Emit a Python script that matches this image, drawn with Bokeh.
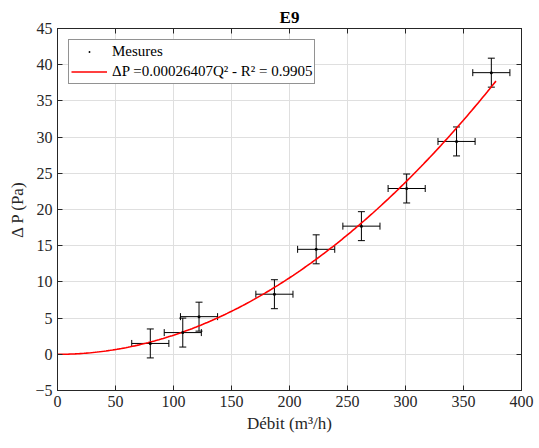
import numpy as np
from bokeh.plotting import figure
from bokeh.models import (Whisker, TeeHead, ColumnDataSource, LinearAxis, Range1d,
                          Legend, LegendItem, FixedTicker, CustomJSTickFormatter)
from bokeh.embed import file_html
from bokeh.resources import INLINE

# Measured data
debit = [80, 108, 122, 187, 223, 262, 301, 344, 374]
dp = [1.5, 3.0, 5.2, 8.3, 14.5, 17.7, 22.9, 29.4, 38.9]
debit_err = [16, 16, 16, 16, 16, 16, 16, 16, 16]
dp_err = [2, 2, 2, 2, 2, 2, 2, 2, 2]

# Fit: dP = a * Q^2
coef = 0.00026407
q_max = 378
q_fit = np.linspace(0, q_max, 200)
dp_fit = coef * q_fit ** 2

x_ticks = [0, 50, 100, 150, 200, 250, 300, 350, 400]
y_ticks = [-5, 0, 5, 10, 15, 20, 25, 30, 35, 40, 45]

FONT = "Liberation Serif"
AX = "#262626"

src = ColumnDataSource(dict(
    x=debit, y=dp,
    x_lo=[a - b for a, b in zip(debit, debit_err)],
    x_up=[a + b for a, b in zip(debit, debit_err)],
    y_lo=[a - b for a, b in zip(dp, dp_err)],
    y_up=[a + b for a, b in zip(dp, dp_err)],
))

p = figure(width=539, height=448, output_backend="svg", toolbar_location=None,
           x_range=Range1d(0, 400), y_range=Range1d(-5, 45),
           min_border_left=57, min_border_right=18, min_border_top=28, min_border_bottom=58)

p.title.text = "E9"
p.title.align = "center"
p.title.text_font = FONT
p.title.text_font_size = "17px"
p.title.text_font_style = "bold"
p.title.text_color = "black"
p.title.standoff = 3

p.background_fill_color = "white"
p.outline_line_color = AX
p.outline_line_width = 1

for ax in (p.xaxis[0], p.yaxis[0]):
    ax.major_label_text_font = FONT
    ax.major_label_text_font_size = "16px"
    ax.major_label_text_color = AX
    ax.axis_label_text_font = FONT
    ax.axis_label_text_font_size = "17px"
    ax.axis_label_text_font_style = "normal"
    ax.axis_label_text_color = AX
    ax.major_tick_in = 5
    ax.major_tick_out = 0
    ax.minor_tick_line_color = None
    ax.axis_line_color = AX
    ax.major_tick_line_color = AX

p.xaxis[0].ticker = FixedTicker(ticks=x_ticks)
p.yaxis[0].ticker = FixedTicker(ticks=y_ticks)
p.xaxis[0].axis_label = "Débit (m³/h)"
p.yaxis[0].axis_label = "Δ P (Pa)"
p.xaxis[0].major_label_standoff = 5
p.yaxis[0].major_label_standoff = 5
p.xaxis[0].axis_label_standoff = 4
p.yaxis[0].axis_label_standoff = 5

# mirrored axes with inward ticks, no labels
blank = CustomJSTickFormatter(code="return ''")
ax_r = LinearAxis(ticker=FixedTicker(ticks=y_ticks), formatter=blank,
                  major_tick_in=5, major_tick_out=0, minor_tick_line_color=None,
                  axis_line_color=AX, major_tick_line_color=AX, major_label_standoff=0)
ax_t = LinearAxis(ticker=FixedTicker(ticks=x_ticks), formatter=blank,
                  major_tick_in=5, major_tick_out=0, minor_tick_line_color=None,
                  axis_line_color=AX, major_tick_line_color=AX, major_label_standoff=0)
p.add_layout(ax_r, "right")
p.add_layout(ax_t, "above")

p.xgrid.ticker = FixedTicker(ticks=x_ticks)
p.ygrid.ticker = FixedTicker(ticks=y_ticks)
p.grid.grid_line_color = "#dfdfdf"
p.grid.grid_line_width = 1

# fit curve
fit = p.line(q_fit, dp_fit, line_color="#ff0000", line_width=1.6)

# error bars
for base, lo, up, dim in (("y", "x_lo", "x_up", "width"), ("x", "y_lo", "y_up", "height")):
    p.add_layout(Whisker(source=src, base=base, lower=lo, upper=up, dimension=dim,
                         line_color="black", line_width=1,
                         lower_head=TeeHead(size=7, line_color="black", line_width=1),
                         upper_head=TeeHead(size=7, line_color="black", line_width=1)))

dots = p.scatter("x", "y", source=src, marker="dot", size=12,
                 fill_color="black", line_color="black")

legend = Legend(items=[
    LegendItem(label="Mesures", renderers=[dots]),
    LegendItem(label="ΔP =0.00026407Q² - R² = 0.9905", renderers=[fit]),
], location="top_left")
legend.margin = 11
legend.padding = 2
legend.spacing = 1
legend.glyph_width = 36
legend.glyph_height = 19
legend.label_standoff = 5
legend.label_text_font = FONT
legend.label_text_font_size = "15px"
legend.label_text_color = "black"
legend.border_line_color = AX
legend.border_line_width = 1
legend.background_fill_alpha = 1
p.add_layout(legend)

open("out.html", "w").write(file_html(p, INLINE))
